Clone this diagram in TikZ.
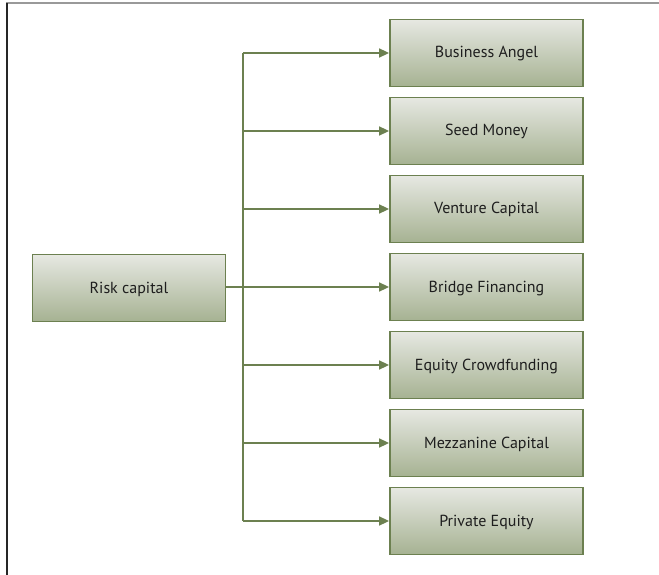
\documentclass[tikz,border=0pt]{standalone}
\usepackage{fontspec}
\setmainfont{PT Sans}
\usetikzlibrary{arrows.meta}
\definecolor{edgegreen}{RGB}{108,128,80}
\definecolor{filltop}{RGB}{230,232,226}
\definecolor{fillbot}{RGB}{166,178,146}
\definecolor{txt}{RGB}{30,30,30}
\tikzset{
  box/.style={draw=edgegreen, line width=1.8pt, top color=filltop, bottom color=fillbot,
    minimum width=193pt, minimum height=67pt, inner sep=0pt, text height=11pt, text depth=1pt,
    font=\fontsize{16}{19}\selectfont, text=txt},
  conn/.style={draw=edgegreen, line width=1.6pt},
  arr/.style={conn, -{Triangle[length=10pt,width=9pt]}}
}
\begin{document}
\begin{tikzpicture}[x=1pt,y=-1pt]
\useasboundingbox (0,0) rectangle (659,575);
\draw[line width=2pt, draw=gray!80] (6,3.5) -- (659,3.5);
\draw[line width=1.8pt, draw=black!85] (7,3.5) -- (7,575);
\node[box] (risk) at (129,288) {Risk capital};
\node[box] (b1) at (486.5,53) {Business Angel};
\node[box] (b2) at (486.5,131) {Seed Money};
\node[box] (b3) at (486.5,209) {Venture Capital};
\node[box] (b4) at (486.5,287) {Bridge Financing};
\node[box] (b5) at (486.5,365) {Equity Crowdfunding};
\node[box] (b6) at (486.5,443) {Mezzanine Capital};
\node[box] (b7) at (486.5,521) {Private Equity};
\coordinate (top) at (243,53);
\coordinate (bot) at (243,521);
\draw[conn] (top) -- (bot);
\draw[conn] (risk.east |- b4) -- (243,287);
\foreach \i in {1,...,7} {
  \draw[arr] (top |- b\i) -- (b\i.west);
}
\end{tikzpicture}
\end{document}
